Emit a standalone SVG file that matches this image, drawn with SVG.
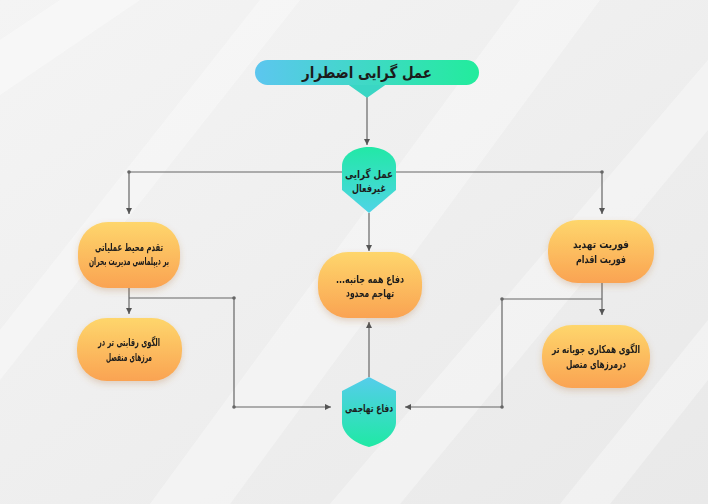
<svg xmlns="http://www.w3.org/2000/svg" width="708" height="504" viewBox="0 0 708 504">
<defs>
  <linearGradient id="bg" x1="0" y1="0" x2="1" y2="1">
    <stop offset="0" stop-color="#f4f4f4"/>
    <stop offset="1" stop-color="#e9e9e9"/>
  </linearGradient>
  <linearGradient id="pill" x1="0" y1="0" x2="1" y2="0">
    <stop offset="0" stop-color="#5cc6ef"/>
    <stop offset="1" stop-color="#22ec9c"/>
  </linearGradient>
  <linearGradient id="hexTop" x1="0" y1="0" x2="0" y2="1">
    <stop offset="0" stop-color="#22e8a6"/>
    <stop offset="1" stop-color="#4fd4e6"/>
  </linearGradient>
  <linearGradient id="hexBot" x1="0" y1="0" x2="0" y2="1">
    <stop offset="0" stop-color="#55cdeb"/>
    <stop offset="1" stop-color="#1fe9a4"/>
  </linearGradient>
  <linearGradient id="orange" x1="0" y1="0" x2="0" y2="1">
    <stop offset="0" stop-color="#fed66c"/>
    <stop offset="1" stop-color="#faa352"/>
  </linearGradient>
  <filter id="shadow" x="-20%" y="-20%" width="140%" height="150%">
    <feDropShadow dx="0" dy="3" stdDeviation="3" flood-color="#b07030" flood-opacity="0.25"/>
  </filter>
  <marker id="arr" markerUnits="userSpaceOnUse" markerWidth="7" markerHeight="7" refX="6" refY="3" orient="auto">
    <path d="M0,0 L6,3 L0,6 z" fill="#555"/>
  </marker>
</defs>
<style>
  .t { font-family: "DejaVu Sans", "Noto Sans", sans-serif; font-weight: bold; fill: #1c1c1c; text-anchor: middle; direction: rtl; }
  .n { font-size: 11px; }
  .conn path { fill: none; stroke: #666; stroke-width: 1.2; }
  .dot { fill: #666; }
</style>

<rect width="708" height="504" fill="url(#bg)"/>
<g fill="#ffffff" opacity="0.35">
  <polygon points="0,40 60,0 140,0 0,95"/>
  <polygon points="150,504 520,0 600,0 230,504"/>
  <polygon points="330,504 708,60 708,130 400,504"/>
  <polygon points="0,330 260,0 300,0 0,380"/>
  <polygon points="560,504 708,320 708,380 610,504"/>
</g>

<g class="conn">
  <path d="M367,96 V145" marker-end="url(#arr)"/>
  <path d="M342,172 H129 V214" marker-end="url(#arr)"/>
  <path d="M396,172 H602 V214" marker-end="url(#arr)"/>
  <path d="M369,213 V251" marker-end="url(#arr)"/>
  <path d="M129,288 V314" marker-end="url(#arr)"/>
  <path d="M129,298 H234 V407 H331" marker-end="url(#arr)"/>
  <path d="M602,283 V315" marker-end="url(#arr)"/>
  <path d="M602,299 H502 V407 H405" marker-end="url(#arr)"/>
  <path d="M369,377 V322" marker-end="url(#arr)"/>
  <circle class="dot" cx="129" cy="172" r="1.8"/>
  <circle class="dot" cx="602" cy="172" r="1.8"/>
  <circle class="dot" cx="234" cy="298" r="1.8"/>
  <circle class="dot" cx="234" cy="407" r="1.8"/>
  <circle class="dot" cx="502" cy="299" r="1.8"/>
  <circle class="dot" cx="502" cy="407" r="1.8"/>
</g>

<g id="title">
  <path d="M350,84 L384,84 L367,96 Z" fill="#3ad6c4" stroke="#3ad6c4" stroke-width="3" stroke-linejoin="round"/>
  <rect x="255" y="60" width="224" height="25" rx="12.5" fill="url(#pill)"/>
  <text class="t" x="367" y="78" font-size="16" textLength="130" lengthAdjust="spacingAndGlyphs">عمل گرایی اضطرار</text>
</g>

<g id="hex-top">
  <path d="M342,166 C342,154 356,147 369,147 C382,147 396,154 396,166 L396,190 L369,213 L342,190 Z" fill="url(#hexTop)"/>
  <text class="t n" x="369" y="178" textLength="48" lengthAdjust="spacingAndGlyphs">عمل گرایی</text>
  <text class="t n" x="369" y="192" textLength="34" lengthAdjust="spacingAndGlyphs">غیرفعال</text>
</g>

<g id="node-left-top" filter="url(#shadow)">
  <rect x="78" y="222" width="102" height="66" rx="30" fill="url(#orange)"/>
  <text class="t n" x="129" y="251" textLength="68" lengthAdjust="spacingAndGlyphs">تقدم محیط عملیاتی</text>
  <text class="t n" x="129" y="265" textLength="80" lengthAdjust="spacingAndGlyphs">بر دیپلماسی مدیریت بحران</text>
</g>

<g id="node-right-top" filter="url(#shadow)">
  <rect x="548" y="220" width="106" height="63" rx="30" fill="url(#orange)"/>
  <text class="t n" x="601" y="248" textLength="56" lengthAdjust="spacingAndGlyphs">فوریت تهدید</text>
  <text class="t n" x="601" y="263" textLength="50" lengthAdjust="spacingAndGlyphs">فوریت اقدام</text>
</g>

<g id="node-center" filter="url(#shadow)">
  <rect x="318" y="252" width="104" height="66" rx="30" fill="url(#orange)"/>
  <text class="t n" x="370" y="283" textLength="68" lengthAdjust="spacingAndGlyphs">دفاع همه جانبه...</text>
  <text class="t n" x="370" y="297" textLength="48" lengthAdjust="spacingAndGlyphs">تهاجم محدود</text>
</g>

<g id="node-left-bottom" filter="url(#shadow)">
  <rect x="77" y="318" width="105" height="63" rx="30" fill="url(#orange)"/>
  <text class="t n" x="129" y="346" textLength="62" lengthAdjust="spacingAndGlyphs">الگوی رقابتی تر در</text>
  <text class="t n" x="129" y="361" textLength="46" lengthAdjust="spacingAndGlyphs">مرزهای منفصل</text>
</g>

<g id="node-right-bottom" filter="url(#shadow)">
  <rect x="542" y="325" width="108" height="63" rx="30" fill="url(#orange)"/>
  <text class="t n" x="596" y="353" textLength="88" lengthAdjust="spacingAndGlyphs">الگوی همکاری جویانه تر</text>
  <text class="t n" x="596" y="368" textLength="60" lengthAdjust="spacingAndGlyphs">درمرزهای متصل</text>
</g>

<g id="hex-bottom">
  <path d="M369,377 L396,391 L396,422 C396,434 382,444 369,447 C356,444 342,434 342,422 L342,391 Z" fill="url(#hexBot)"/>
  <text class="t n" x="369" y="412" textLength="48" lengthAdjust="spacingAndGlyphs">دفاع تهاجمی</text>
</g>
</svg>
